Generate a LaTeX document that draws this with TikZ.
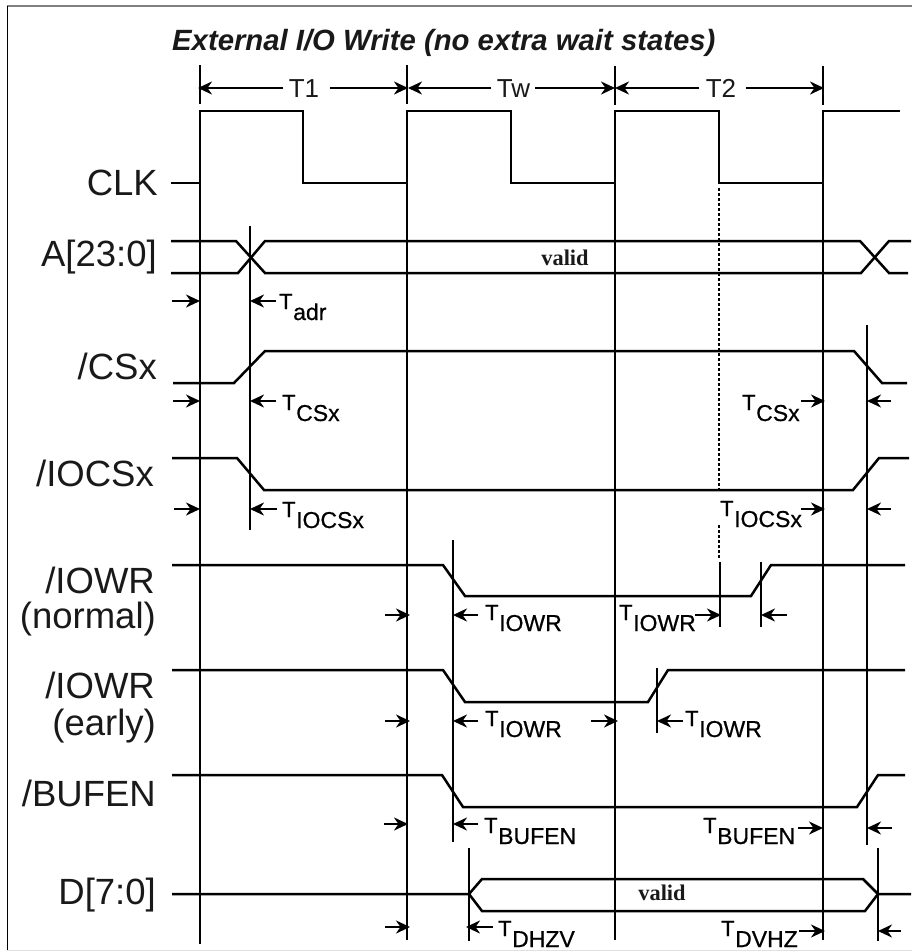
\documentclass[tikz,border=0pt]{standalone}
\usepackage{fontspec}
\setmainfont{Liberation Sans}
\newfontfamily\valfont{Liberation Serif}
\newfontfamily\medfont[FakeBold=0.6]{Liberation Sans}
\usetikzlibrary{arrows.meta}
\newcommand{\fsz}[1]{\fontsize{#1}{#1}\selectfont}
\tikzset{
  wave/.style={line width=2.5pt,line join=miter,black},
  rule/.style={line width=2.5pt,black},
  dim/.style={line width=2.5pt,-{Stealth[length=14pt,width=13pt,inset=4.5pt]},black},
  sig/.style={anchor=base east,inner sep=0pt,font=\fsz{36.5},text=black!90},
  per/.style={anchor=base,inner sep=0pt,font=\fsz{26},text=black!90},
  val/.style={inner sep=0pt,font=\valfont\bfseries\fsz{22.4},text=black!90},
  tt/.style={anchor=base west,inner sep=0pt,font=\medfont\fsz{22},text=black},
  ts/.style={anchor=base west,inner sep=0pt,font=\medfont\fsz{23},text=black},
}
% \tlab{name}{x}{y}{subscript}
\newcommand{\tlab}[4]{%
  \node[tt] (#1t) at (#2,#3) {T};
  \node[ts] (#1s) at (#2+14,#3+11) {#4};
}
\begin{document}
\begin{tikzpicture}[x=1pt,y=-1pt]
\useasboundingbox (0,0) rectangle (912,951);
% frame
\draw[line width=2.5pt,black!50] (7,6) -- (912,6);
\draw[line width=1.5pt,black] (7.5,6) -- (7.5,950);
\draw[line width=1.2pt,black!12] (7,950.5) -- (912,950.5);
% title
\node[anchor=base west,inner sep=0pt,font=\bfseries\itshape\fsz{29.3},text=black!90] (title) at (172,50) {External I/O Write (no extra wait states)};
% period ticks
\foreach \x/\a/\b in {200/65/104,407/65/104,615/66/105,823/66/105}
  \draw[rule] (\x,\a) -- (\x,\b);
\node[per] (t1) at (304,97) {T1};
\node[per] (tw) at (513.5,97) {Tw};
\node[per] (t2) at (721,97) {T2};
\coordinate (t1l) at (283,88);
\coordinate (t1r) at (330,88);
\coordinate (twl) at (491,88);
\coordinate (twr) at (535,88);
\coordinate (t2l) at (699,88);
\coordinate (t2r) at (746,88);
\draw[dim] (t1l) -- (198,88);
\draw[dim] (t1r) -- (408,88);
\draw[dim] (twl) -- (408,88);
\draw[dim] (twr) -- (615,88);
\draw[dim] (t2l) -- (615,88);
\draw[dim] (t2r) -- (824,88);
% vertical rules
\draw[rule] (200,183) -- (200,944);
\draw[rule] (407,183) -- (407,940);
\draw[rule] (615,183) -- (615,940);
\draw[rule] (823,183) -- (823,940);
\draw[rule] (250,226) -- (250,530);
\draw[rule] (867,325) -- (867,845);
\draw[rule] (453,540) -- (453,842);
\draw[rule] (720,562) -- (720,627);
\draw[rule] (761,562) -- (761,627);
\draw[rule] (657,668) -- (657,733);
\draw[rule] (469,848) -- (469,941);
\draw[rule] (878,848) -- (878,941);
% dotted
\draw[line width=2.5pt,dash pattern=on 2.5pt off 2.5pt] (719,188) -- (719,490);
\draw[line width=2.5pt,dash pattern=on 2.5pt off 2.5pt] (719,525) -- (719,559);
% CLK
\node[sig] (clk) at (158,195) {CLK};
\draw[wave] (171,183) -- (200,183) -- (200,111) -- (303,111) -- (303,183) -- (407,183) -- (407,111) -- (511,111) -- (511,183) -- (615,183) -- (615,111) -- (719,111) -- (719,183) -- (823,183) -- (823,111) -- (900,111);
% A
\node[sig] (a) at (157,266) {A[23:0]};
\draw[wave] (171,241) -- (236,241) -- (265,273) -- (861,273) -- (889,241) -- (911,241);
\draw[wave] (171,273) -- (238,273) -- (265,241) -- (860,241) -- (889,273) -- (908,273);
\node[val] (v1) at (565,258) {valid};
% CSx
\node[sig] (cs) at (157,379) {/CSx};
\draw[wave] (173,383) -- (234,383) -- (265,351) -- (854,351) -- (882,383) -- (907,383);
% IOCSx
\node[sig] (iocs) at (154,486) {/IOCSx};
\draw[wave] (172,458) -- (237,458) -- (264,490) -- (853,490) -- (879,458) -- (909,458);
% IOWR normal
\node[sig] (iown) at (155,593) {/IOWR};
\node[sig] (norm) at (156,628) {(normal)};
\draw[wave] (172,565) -- (443,565) -- (465,596) -- (751,596) -- (771,565) -- (905,565);
% IOWR early
\node[sig] (iowe) at (155,698) {/IOWR};
\node[sig] (earl) at (156,735) {(early)};
\draw[wave] (172,670) -- (443,670) -- (465,702) -- (648,702) -- (668,670) -- (905,670);
% BUFEN
\node[sig] (buf) at (156,806) {/BUFEN};
\draw[wave] (172,775) -- (442,775) -- (463,807) -- (857,807) -- (878,775) -- (905,775);
% D
\node[sig] (d) at (156,904) {D[7:0]};
\draw[wave] (172,894) -- (469,894) -- (482,879) -- (863,879) -- (878,894) -- (911,894);
\draw[wave] (469,894) -- (482,911) -- (865,911) -- (878,894);
\node[val] (v2) at (662,893) {valid};
% timing arrows
\foreach \a/\b/\y in {172/200/301,276/250/301,
  173/200/401,276/250/401,801/825/401,891/867/401,
  174/200/509,277/250/509,801/825/509,891/867/509,
  385/410/615,478/453/615,695/721/615,787/761/615,
  385/410/721,478/453/721,591/618/721,683/657/721,
  384/408/824,478/453/824,798/823/828,892/867/828,
  385/410/927,493/466/927,799/825/931,901/878/931}
  \draw[dim] (\a,\y) -- (\b,\y);
% timing labels
\tlab{adr}{279}{309}{adr}
\tlab{csa}{282}{410}{CSx}
\tlab{ica}{282}{517}{IOCSx}
\tlab{csb}{742}{410}{CSx}
\tlab{icb}{720}{516}{IOCSx}
\tlab{wa}{485}{620}{IOWR}
\tlab{wb}{619}{620}{IOWR}
\tlab{wc}{485}{726}{IOWR}
\tlab{wd}{685}{726}{IOWR}
\tlab{ba}{484}{833}{BUFEN}
\tlab{bb}{703}{833}{BUFEN}
\tlab{dh}{498}{936}{DHZV}
\tlab{dv}{721}{936}{DVHZ}
\end{tikzpicture}
\end{document}
